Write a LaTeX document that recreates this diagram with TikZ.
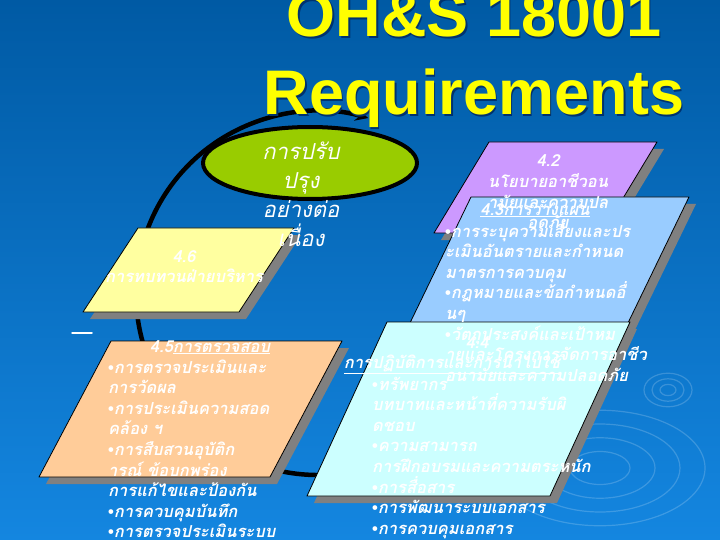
\documentclass[tikz,border=0pt]{standalone}
\usepackage{fontspec}
\setmainfont{Liberation Sans}
\newfontfamily\thaifont[Script=Thai, BoldFeatures={FakeBold=1.2}]{Loma}
\definecolor{bgtop}{RGB}{0,90,164}
\definecolor{bgbot}{RGB}{20,134,224}
\definecolor{titleyellow}{RGB}{255,255,0}
\definecolor{titleshade}{RGB}{0,50,110}
\definecolor{lime}{RGB}{153,204,0}
\definecolor{cream}{RGB}{255,255,160}
\definecolor{lilac}{RGB}{204,153,255}
\definecolor{sky}{RGB}{153,204,255}
\definecolor{ice}{RGB}{204,255,255}
\definecolor{peach}{RGB}{255,204,153}
\newcommand{\bul}{{\normalfont\bfseries\textbullet}}
% slanted box with its shadow: colour, x, y, width, height, slant
\newcommand{\slantbox}[6]{%
  \fill[boxshadow] (#2+7,#3+7) -- ++(#4,0) -- ++(-#6,#5) -- ++(-#4,0) -- cycle;
  \filldraw[fill=#1, draw=black, line width=0.8pt] (#2,#3) -- ++(#4,0) -- ++(-#6,#5) -- ++(-#4,0) -- cycle;
}
\tikzset{
  boxshadow/.style={fill=black!50},
  heading/.style={font=\bfseries\fontsize{63}{70}\selectfont, text=titleyellow, anchor=base, inner sep=0pt},
  thaitext/.style={font=\thaifont\bfseries\itshape\fontsize{16.5}{20}\selectfont, text=white, inner sep=0pt},
  ovaltext/.style={font=\thaifont\itshape\fontsize{22}{26}\selectfont, text=white, inner sep=0pt, anchor=base},
  ripple/.style={white, opacity=0.18, line width=1.2pt},
}
\begin{document}
\begin{tikzpicture}[line join=round, line cap=round, >=stealth, x=1pt, y=-1pt]
\useasboundingbox (0,0) rectangle (720,540);
\clip (0,0) rectangle (720,540);
\fill[top color=bgtop, bottom color=bgbot] (0,0) rectangle (720,540);
% ripples
\foreach \r in {8,16,24} \draw[ripple] (668,390) ellipse [x radius=\r, y radius=0.7*\r];
\foreach \r in {30,55,80,105} \draw[ripple] (600,468) ellipse [x radius=\r, y radius=0.55*\r];
% cycle
\draw[->, line width=4.5pt] (318,293) ++(60:182) arc[start angle=60, end angle=286, radius=182];
\draw[line width=4pt, fill=lime] (310,163) ellipse [x radius=107, y radius=36];
% boxes
\slantbox{cream}{138}{228}{156}{84}{55}
\slantbox{lilac}{489}{142}{168}{91}{55}
\slantbox{sky}{471}{197}{218}{128}{62}
\slantbox{peach}{111}{341}{231}{136}{72}
\slantbox{ice}{387}{322}{243}{174}{80}
\draw[white, line width=1.5pt] (72,333) -- (92,333);
% texts
\foreach \txt [count=\i from 0] in {4.6, การทบทวนฝ่ายบริหาร}
  \node[thaitext, anchor=base] (t46-\i) at (184,262+20.6*\i) {\txt};
\foreach \txt [count=\i from 0] in {4.2, นโยบายอาชีวอน, ามัยและความปล, อดภัย}
  \node[thaitext, anchor=base] (t42-\i) at (548,167+20.6*\i) {\txt};
\node[thaitext, anchor=base] (h43) at (535,215) {\underline{4.3การวางแผน}};
\foreach \txt [count=\i from 0] in {\bul การระบุความเสี่ยงและปร, ะเมินอันตรายและกำหนด, มาตรการควบคุม, \bul กฎหมายและข้อกำหนดอื่, นๆ, \bul วัตถุประสงค์และเป้าหม, ายและโครงการจัดการอาชีว, อนามัยและความปลอดภัย}
  \node[thaitext, anchor=base west] (t43-\i) at (445,237+20.6*\i) {\txt};
\node[thaitext, anchor=base] (h44) at (477,348) {4.4};
\node[thaitext, anchor=base] (h44b) at (452,368) {\underline{การปฏิบัติการและการนำไปใช้}};
\foreach \txt [count=\i from 0] in {\bul ทรัพยากร, บทบาทและหน้าที่ความรับผิ, ดชอบ, \bul ความสามารถ, การฝึกอบรมและความตระหนัก, \bul การสื่อสาร, \bul การพัฒนาระบบเอกสาร, \bul การควบคุมเอกสาร}
  \node[thaitext, anchor=base west] (t44-\i) at (372,390+20.6*\i) {\txt};
\node[thaitext, anchor=base] (h45) at (210,352) {4.5\underline{การตรวจสอบ}};
\foreach \txt [count=\i from 0] in {\bul การตรวจประเมินและ, การวัดผล, \bul การประเมินความสอด, คล้อง ฯ, \bul การสืบสวนอุบัติก, ารณ์ ข้อบกพร่อง, การแก้ไขและป้องกัน, \bul การควบคุมบันทึก, \bul การตรวจประเมินระบบ}
  \node[thaitext, anchor=base west] (t45-\i) at (108,373+20.6*\i) {\txt};
\foreach \txt [count=\i from 0] in {การปรับ, ปรุง, อย่างต่อ, เนื่อง}
  \node[ovaltext] (cip-\i) at (301,160+29*\i) {\txt};
% title
\foreach \txt/\yy [count=\i] in {OH\&S 18001/37, Requirements/115} {
  \node[heading, text=titleshade] (shade-\i) at (475.5,\yy+1.5) {\txt};
  \node[heading] (title-\i) at (474,\yy) {\txt};
}
\end{tikzpicture}
\end{document}
